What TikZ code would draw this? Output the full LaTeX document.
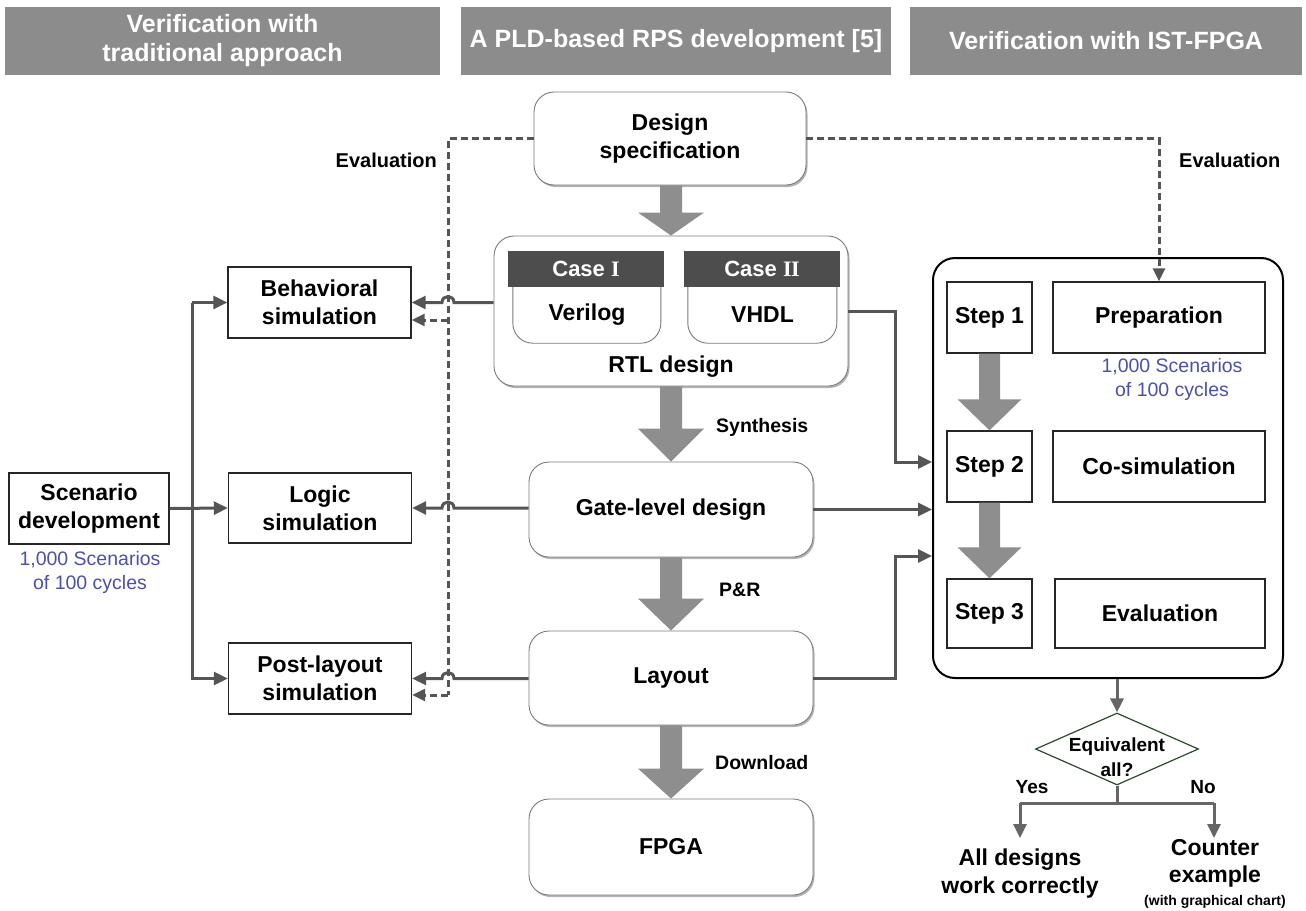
\documentclass[tikz,border=0pt]{standalone}
\usepackage{fontspec}
\setmainfont{Liberation Sans}
\newfontfamily\romfont{Liberation Serif}
\usetikzlibrary{arrows.meta,calc,shapes.geometric,shadows}
\definecolor{hdrgray}{HTML}{8C8C8C}
\definecolor{fatcol}{HTML}{8E8E8E}
\definecolor{conncol}{HTML}{555555}
\definecolor{casecol}{HTML}{4D4D4D}
\definecolor{bluetxt}{HTML}{4B50A8}
\definecolor{dgreen}{HTML}{2E4A2E}
\definecolor{rborder}{HTML}{7A7A7A}
\newcommand\fatarr[5]{%
  \fill[fatcol] let \p1=(#1), \p2=(#2) in
  (\x2-#4,\y1) -- (\x2+#4,\y1) -- (\x2+#4,\y2+#3) -- (\x2+#5,\y2+#3) --
  (\x2,\y2) -- (\x2-#5,\y2+#3) -- (\x2-#4,\y2+#3) -- cycle;}
\tikzset{
  hdr/.style={fill=hdrgray, text=white, font=\fontsize{25}{29}\selectfont\bfseries,
    align=center, minimum height=68pt, inner sep=0pt},
  rbox/.style={draw=rborder, line width=0.9pt, rounded corners=20pt, fill=white,
    drop shadow={shadow xshift=1.5pt, shadow yshift=-2pt, fill=black!50, opacity=0.6},
    font=\fontsize{23}{28}\selectfont\bfseries, align=center, inner sep=0pt},
  sbox/.style={draw=black!85, line width=1.4pt, fill=white,
    font=\fontsize{23}{28}\selectfont\bfseries, align=center, inner sep=0pt},
  casehdr/.style={fill=casecol, text=white, font=\fontsize{22}{26}\selectfont\bfseries,
    minimum height=36pt, minimum width=156pt, inner sep=0pt},
  btxt/.style={font=\fontsize{23}{28}\selectfont\bfseries, align=center, inner sep=0pt},
  lbl/.style={font=\fontsize{19.5}{23}\selectfont\bfseries, inner sep=0pt},
  blue/.style={text=bluetxt, font=\fontsize{19.5}{24}\selectfont, align=center, inner sep=0pt},
  conn/.style={draw=conncol, line width=3pt},
  arr/.style={conn, -{Triangle[length=14pt,width=13pt]}},
  dsh/.style={draw=conncol, line width=3pt, dash pattern=on 7pt off 4pt},
  dsharr/.style={dsh, -{Triangle[length=13pt,width=12pt]}},
  conn2/.style={draw=black!60, line width=3pt},
  arr2/.style={conn2, -{Triangle[length=14pt,width=13pt]}}
}
\begin{document}
\begin{tikzpicture}[x=1pt,y=-1pt]
\useasboundingbox (0,0) rectangle (1306,910);

% headers
\node[hdr, minimum width=435pt] (h1) at (222.5,41) {Verification with\\traditional approach};
\node[hdr, minimum width=430pt] (h2) at (676,41) {A PLD-based RPS development [5]};
\node[hdr, minimum width=392pt] (h3) at (1106,41) {Verification with IST-FPGA};

% central flow
\node[rbox, minimum width=272pt, minimum height=93pt] (spec) at (670,138.5) {Design\\specification};
\node[rbox, minimum width=354pt, minimum height=150pt] (rtl) at (671,311) {};
\node[btxt] (rtlt) at (671,367) {RTL design};
\node[casehdr] (c1) at (586,269) {Case {\romfont\bfseries I}};
\node[casehdr] (c2) at (762,269) {Case {\romfont\bfseries I\kern-0.5pt I}};
\draw[rborder, line width=0.9pt, rounded corners=20pt] (c1.south west) ++(5,0) -- ++(0,56) -- ++(148,0) -- ++(0,-56);
\draw[rborder, line width=0.9pt, rounded corners=20pt] (c2.south west) ++(4,0) -- ++(0,56) -- ++(149,0) -- ++(0,-56);
\node[btxt] (ver) at (587,315) {Verilog};
\node[btxt] (vhdl) at (762.5,315) {VHDL};
\node[rbox, minimum width=284pt, minimum height=95pt] (gate) at (671,509.5) {Gate-level design};
\node[rbox, minimum width=284pt, minimum height=94pt] (lay) at (671,678) {Layout};
\node[rbox, minimum width=284pt, minimum height=96pt] (fpga) at (671,847) {FPGA};

\fatarr{spec.south}{rtl.north}{23pt}{11pt}{33pt}
\fatarr{rtl.south}{gate.north}{33pt}{11pt}{33pt}
\fatarr{gate.south}{lay.north}{32pt}{11pt}{33pt}
\fatarr{lay.south}{fpga.north}{30pt}{11pt}{33pt}

\node[lbl, anchor=west] (syn) at (716,427) {Synthesis};
\node[lbl, anchor=west] (pr) at (719,590) {P\&R};
\node[lbl, anchor=west] (dl) at (715,763) {Download};

% left column
\node[sbox, minimum width=183pt, minimum height=71pt] (beh) at (319.5,302.5) {Behavioral\\simulation};
\node[sbox, minimum width=183pt, minimum height=70pt] (logic) at (320,508) {Logic\\simulation};
\node[sbox, minimum width=183pt, minimum height=71pt] (post) at (320,678.5) {Post-layout\\simulation};
\node[sbox, minimum width=160pt, minimum height=71pt] (scen) at (89,508.5) {Scenario\\development};
\node[blue] (scenb) at (90,572) {1,000 Scenarios\\of 100 cycles};

\coordinate (v1) at (192,302.5);
\draw[arr] (v1) -- (beh.west);
\draw[arr] (v1) |- (post.west);
\draw[arr] (scen.east) -- (logic.west);

% dashed evaluation (left)
\coordinate (dbot) at (448,695);
\coordinate (dmid) at (448,320);
\draw[dsh] (spec.west) -| (dbot);
\draw[dsharr] (dbot) -- (dbot -| post.east);
\draw[dsharr] (dmid) -- (dmid -| beh.east);
\node[font=\fontsize{20}{24}\selectfont\bfseries, anchor=east, inner sep=0pt] (evl) at (437,160) {Evaluation};

% solid lines with hops
\draw[arr] (rtl.west |- beh.east) -- (454,302.5) .. controls (454,294.5) and (442,294.5) .. (442,302.5) -- (beh.east);
\draw[arr] (gate.west |- logic.east) -- (454,508) .. controls (454,500) and (442,500) .. (442,508) -- (logic.east);
\draw[arr] (lay.west |- post.east) -- (454,678.5) .. controls (454,670.5) and (442,670.5) .. (442,678.5) -- (post.east);

% IST-FPGA block
\node[draw=black, line width=2pt, rounded corners=22pt, minimum width=350pt, minimum height=420pt, inner sep=0pt] (ist) at (1108,468) {};
\node[sbox, minimum width=85pt, minimum height=71pt] (s1) at (989.5,317.5) {Step 1};
\node[sbox, minimum width=85pt, minimum height=71pt] (s2) at (989.5,466.5) {Step 2};
\node[sbox, minimum width=85pt, minimum height=69pt] (s3) at (989.5,613.5) {Step 3};
\node[sbox, minimum width=212pt, minimum height=71pt] (prep) at (1159,317.5) {Preparation};
\node[sbox, minimum width=212pt, minimum height=71pt] (cosim) at (1159,466.5) {Co-simulation};
\node[sbox, minimum width=210pt, minimum height=69pt] (evb) at (1160,613.5) {Evaluation};
\node[blue] (prepb) at (1172,379) {1,000 Scenarios\\of 100 cycles};
\fatarr{s1.south}{s2.north}{31pt}{10.5pt}{32pt}
\fatarr{s2.south}{s3.north}{31pt}{10.5pt}{32pt}

% dashed evaluation (right)
\draw[dsharr] (spec.east) -| (prep.north);
\node[font=\fontsize{20}{24}\selectfont\bfseries, anchor=west, inner sep=0pt] (evr) at (1179,160) {Evaluation};

% connections into IST block
\coordinate (r1) at (895,462);
\coordinate (r3) at (895,556);
\draw[arr] (rtl.east) -| (r1) -- (r1 -| ist.west);
\draw[arr] (gate.east) -- (gate.east -| ist.west);
\draw[arr] (lay.east) -| (r3) -- (r3 -| ist.west);

% decision
\node[shape=diamond, draw=dgreen, line width=1.2pt, fill=white, minimum width=163pt, minimum height=72pt, inner sep=0pt] (dia) at (1117,749) {};
\node[font=\fontsize{19}{25}\selectfont\bfseries, align=center, inner sep=0pt] (diat) at (1117,757.5) {Equivalent\\all?};
\draw[arr2] (dia.north |- ist.south) -- (dia.north);
\coordinate (yb) at (1117,803);
\coordinate (yl) at (1020,803);
\coordinate (yr) at (1214,803);
\coordinate (yle) at (1020,838);
\coordinate (yre) at (1214,838);
\draw[conn2] (dia.south) -- (yb);
\draw[conn2] (yl) -- (yr);
\draw[arr2] (yl) -- (yle);
\draw[arr2] (yr) -- (yre);
\node[font=\fontsize{19}{23}\selectfont\bfseries, inner sep=0pt] (yes) at (1032,787) {Yes};
\node[font=\fontsize{19}{23}\selectfont\bfseries, inner sep=0pt] (no) at (1203,787) {No};
\node[font=\fontsize{23}{28}\selectfont\bfseries, align=center, inner sep=0pt] (alld) at (1020,874) {All designs\\work correctly};
\node[font=\fontsize{23}{27}\selectfont\bfseries, align=center, inner sep=0pt] (ctr) at (1215,863.5) {Counter\\example};
\node[font=\fontsize{14}{16}\selectfont\bfseries, inner sep=0pt] (ctrs) at (1215,902) {(with graphical chart)};
\end{tikzpicture}
\end{document}
